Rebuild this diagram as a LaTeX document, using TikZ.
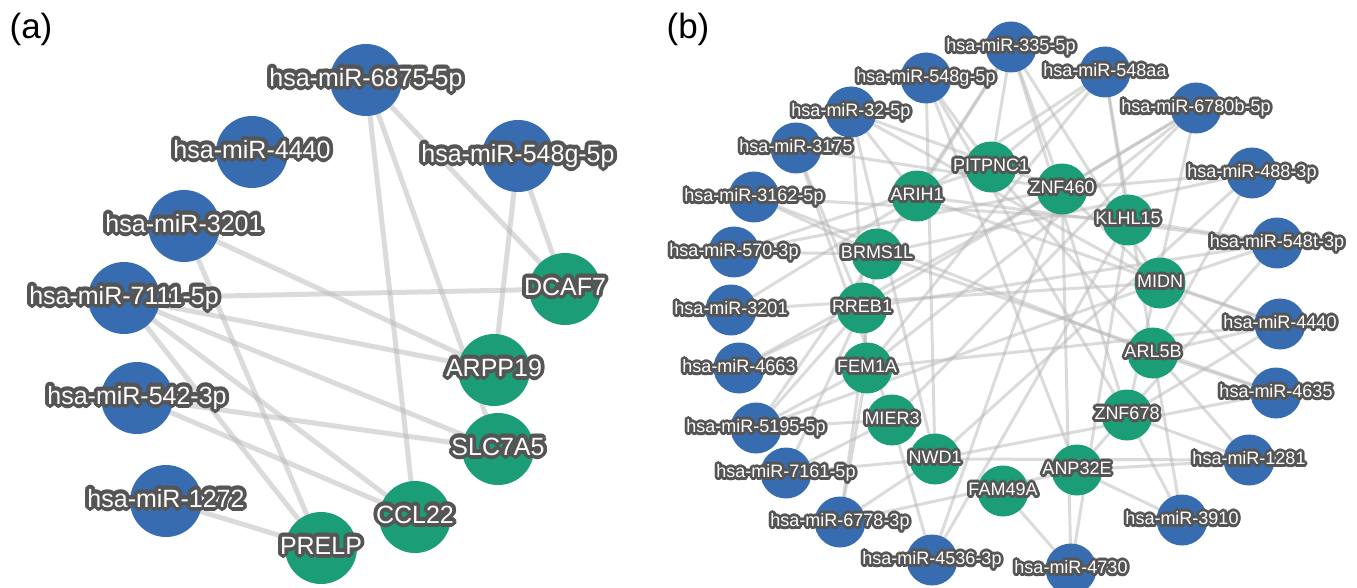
\documentclass[tikz,border=0pt]{standalone}
\usepackage{fontspec}
\setmainfont{Liberation Sans}
\definecolor{mirblue}{RGB}{56,108,176}
\definecolor{genegreen}{RGB}{27,158,119}
\definecolor{halo}{RGB}{85,85,85}
\definecolor{edgegray}{RGB}{185,185,185}
\pgfdeclarelayer{bg}
\pgfdeclarelayer{edges}
\pgfsetlayers{bg,edges,main}

% white text with a dark outline, built from shifted copies
\newcommand\halotext[2]{%
  \foreach \hang in {0,22.5,...,337.5}{%
    \pgfmathsetmacro\hx{#1*cos(\hang)}%
    \pgfmathsetmacro\hy{#1*sin(\hang)}%
    \rlap{\kern\hx pt\raisebox{\hy pt}{\color{halo}#2}}}%
  \foreach \hang in {0,45,...,315}{%
    \pgfmathsetmacro\hx{0.5*#1*cos(\hang)}%
    \pgfmathsetmacro\hy{0.5*#1*sin(\hang)}%
    \rlap{\kern\hx pt\raisebox{\hy pt}{\color{halo}#2}}}%
  {\color{white}#2}}

\tikzset{
  mir/.style={circle, fill=mirblue, draw=none, inner sep=0pt},
  gene/.style={circle, fill=genegreen, draw=none, inner sep=0pt},
  sizeA/.style={minimum size=72pt},
  sizeB/.style={minimum size=51pt},
  lblA/.style={inner sep=0pt, text=white, font=\fontsize{25}{25}\selectfont,
    text height=17.8pt, text depth=5.2pt},
  lblB/.style={inner sep=0pt, text=white, font=\fontsize{18}{18}\selectfont,
    text height=13pt, text depth=3.8pt},
  linkA/.style={draw=edgegray, line width=5pt, draw opacity=.5},
  linkB/.style={draw=edgegray, line width=3pt, draw opacity=.5},
  panel/.style={inner sep=0pt, font=\fontsize{35}{35}\selectfont}
}

% panel (a): name/x/y/label
\def\mirA{a6875/366/80/hsa-miR-6875-5p, a4440/252/152/hsa-miR-4440,
  a548g/518/156/hsa-miR-548g-5p, a3201/184/226/hsa-miR-3201,
  a7111/124/298/hsa-miR-7111-5p, a542/137/398/hsa-miR-542-3p,
  a1272/166/501/hsa-miR-1272}
\def\geneA{aDCAF/565/289/DCAF7, aARPP/494/370/ARPP19, aSLC/498/449/SLC7A5,
  aCCL/415/517/CCL22, aPRELP/321/548/PRELP}

% panel (b)
\def\mirB{b335/1011/47/hsa-miR-335-5p, b548aa/1105/72/hsa-miR-548aa,
  b6780/1196/108/hsa-miR-6780b-5p, b488/1252/173/hsa-miR-488-3p,
  b548t/1277/243/hsa-miR-548t-3p, b4440/1280/324/hsa-miR-4440,
  b4635/1276/393/hsa-miR-4635, b1281/1249/460/hsa-miR-1281,
  b3910/1182/520/hsa-miR-3910, b4730/1071/569/hsa-miR-4730,
  b4536/932/560/hsa-miR-4536-3p, b6778/840/522/hsa-miR-6778-3p,
  b5195/756/428/hsa-miR-5195-5p, b7161/786/473/hsa-miR-7161-5p,
  b4663/739/368/hsa-miR-4663, b3201/731/310/hsa-miR-3201,
  b570/734/252/hsa-miR-570-3p, b3162/754/197/hsa-miR-3162-5p,
  b3175/796/148/hsa-miR-3175, b32/851/112/hsa-miR-32-5p,
  b548g/926/78/hsa-miR-548g-5p}
\def\geneB{bPIT/991/167/PITPNC1, bARI/917/196/ARIH1, bZN4/1062/189/ZNF460,
  bKLH/1128/220/KLHL15, bBRM/877/254/BRMS1L, bMID/1160/283/MIDN,
  bRRE/862/308/RREB1, bARL/1153/353/ARL5B, bFEM/867/368/FEM1A,
  bZN6/1127/415/ZNF678, bMIE/892/420/MIER3, bNWD/935/459/NWD1,
  bANP/1077/470/ANP32E, bFAM/1003/491/FAM49A}

\begin{document}
\begin{tikzpicture}[x=1pt,y=-1pt]
\begin{pgfonlayer}{bg}
  \fill[white] (0,0) rectangle (1357,588);
\end{pgfonlayer}
\useasboundingbox (0,0) rectangle (1357,588);
\clip (0,0) rectangle (1357,588);

% panel titles
\node[panel] (ta) at (31,29) {(a)};
\node[panel] (tb) at (688,29) {(b)};

% circles
\foreach \n/\x/\y/\t in \mirA {\node[mir,sizeA] (\n) at (\x,\y) {};}
\foreach \n/\x/\y/\t in \geneA {\node[gene,sizeA] (\n) at (\x,\y) {};}
\foreach \n/\x/\y/\t in \mirB {\node[mir,sizeB] (\n) at (\x,\y) {};}
\foreach \n/\x/\y/\t in \geneB {\node[gene,sizeB] (\n) at (\x,\y) {};}

% interactions
\begin{pgfonlayer}{edges}
\foreach \u/\v in {a6875/aCCL, a6875/aSLC, a6875/aDCAF, a548g/aARPP,
  a548g/aDCAF, a3201/aARPP, a3201/aPRELP, a7111/aDCAF, a7111/aARPP,
  a7111/aSLC, a7111/aCCL, a7111/aPRELP, a542/aSLC, a542/aCCL,
  a1272/aPRELP}
  \draw[linkA] (\u.center) -- (\v.center);
\foreach \u/\v in {
  b335/bPIT, b335/bARI, b335/bZN4, b335/bBRM, b335/bMID, b335/bZN6,
  b548aa/bARI, b548aa/bKLH, b548aa/bARL, b548aa/bPIT, b548aa/bFEM,
  b6780/bZN4, b6780/bRRE, b6780/bFEM, b6780/bZN6, b6780/bMIE,
  b488/bZN4, b488/bBRM, b488/bARL, b488/bNWD,
  b548t/bKLH, b548t/bMID, b548t/bARI, b548t/bRRE, b548t/bANP,
  b4440/bARL, b4440/bMID, b4440/bZN6, b4440/bFEM, b4440/bARI,
  b4635/bARL, b4635/bNWD, b4635/bBRM, b4635/bZN4,
  b1281/bANP, b1281/bZN6, b1281/bNWD, b1281/bPIT,
  b3910/bANP, b3910/bZN6, b3910/bARL,
  b4730/bFAM, b4730/bKLH, b4730/bZN4,
  b4536/bMIE, b4536/bZN4, b4536/bKLH,
  b6778/bFEM, b6778/bBRM, b6778/bNWD, b6778/bANP,
  b7161/bNWD, b7161/bMIE, b7161/bRRE,
  b5195/bMIE, b5195/bBRM, b5195/bFEM, b5195/bMID, b5195/bRRE,
  b4663/bRRE, b4663/bZN4,
  b3201/bARI, b3201/bMID,
  b570/bBRM, b570/bZN4, b570/bPIT,
  b3162/bBRM, b3162/bKLH, b3162/bARL,
  b3175/bRRE, b3175/bMIE, b3175/bZN4,
  b32/bZN4, b32/bARI, b32/bFEM, b32/bMID, b32/bNWD,
  b548g/bNWD, b548g/bPIT, b548g/bZN6, b548g/bANP}
  \draw[linkB] (\u.center) -- (\v.center);
\end{pgfonlayer}

% labels
\foreach \n/\x/\y/\t in \mirA {\node[lblA] (\n-t) at (\n) {\halotext{3.8}{\t}};}
\foreach \n/\x/\y/\t in \geneA {\node[lblA] (\n-t) at (\n) {\halotext{3.8}{\t}};}
\foreach \n/\x/\y/\t in \mirB {\node[lblB] (\n-t) at (\n) {\halotext{2.8}{\t}};}
\foreach \n/\x/\y/\t in \geneB {\node[lblB] (\n-t) at (\n) {\halotext{2.8}{\t}};}
\end{tikzpicture}
\end{document}
